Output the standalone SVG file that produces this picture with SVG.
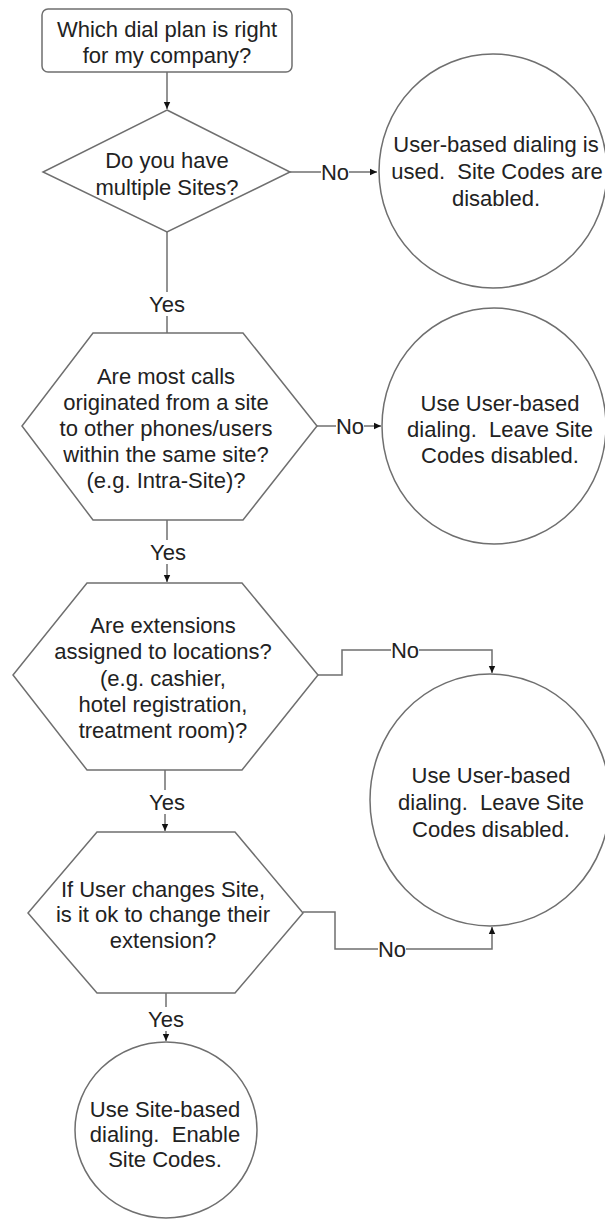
<svg xmlns="http://www.w3.org/2000/svg" width="605" height="1220" viewBox="0 0 605 1220">
<style>
.s{fill:#fff;stroke:#6f6f6f;stroke-width:1.5}
.t{font-family:"Liberation Sans",Arial,sans-serif;font-size:22px;fill:#222;text-anchor:middle;white-space:pre}
.c{fill:none;stroke:#6f6f6f;stroke-width:1.5}
.bg{fill:#fff}
</style>
<defs>
<marker id="ah" markerUnits="userSpaceOnUse" markerWidth="8" markerHeight="8" refX="7" refY="4" orient="auto">
<path d="M0,0.8 L7,4 L0,7.2 Z" fill="#111"/>
</marker>
</defs>
<g id="connectors">
<path class="c" d="M167,72 V109" marker-end="url(#ah)"/>
<path class="c" d="M290,172 H377" marker-end="url(#ah)"/>
<path class="c" d="M167,232 V333"/>
<path class="c" d="M317,426 H381" marker-end="url(#ah)"/>
<path class="c" d="M167,520 V582" marker-end="url(#ah)"/>
<path class="c" d="M318,675 H342 V650 H492 V673" marker-end="url(#ah)"/>
<path class="c" d="M165,770 V831" marker-end="url(#ah)"/>
<path class="c" d="M303,912 H335 V949 H492 V927" marker-end="url(#ah)"/>
<path class="c" d="M166,993 V1041" marker-end="url(#ah)"/>
<rect class="bg" x="321" y="163" width="28" height="20"/>
<text class="t" x="335" y="180">No</text>
<rect class="bg" x="148" y="292" width="38" height="24"/>
<text class="t" x="167" y="312">Yes</text>
<rect class="bg" x="336" y="417" width="28" height="20"/>
<text class="t" x="350" y="434">No</text>
<rect class="bg" x="148" y="540" width="38" height="24"/>
<text class="t" x="168" y="560">Yes</text>
<rect class="bg" x="391" y="641" width="28" height="20"/>
<text class="t" x="405" y="658">No</text>
<rect class="bg" x="148" y="790" width="38" height="24"/>
<text class="t" x="167" y="810">Yes</text>
<rect class="bg" x="378" y="940" width="28" height="20"/>
<text class="t" x="392" y="957">No</text>
<rect class="bg" x="147" y="1007" width="38" height="24"/>
<text class="t" x="166" y="1027">Yes</text>
</g>
<g id="start">
<rect class="s" x="42" y="9" width="250" height="63" rx="6"/>
<text class="t" x="167" y="37">Which dial plan is right</text>
<text class="t" x="167" y="63">for my company?</text>
</g>
<g id="q1">
<polygon class="s" points="167,110 290,172 167,232 43,172"/>
<text class="t" x="167" y="168">Do you have</text>
<text class="t" x="167" y="195">multiple Sites?</text>
</g>
<g id="r1">
<ellipse class="s" cx="493" cy="171" rx="114" ry="117"/>
<text class="t" x="496" y="152">User-based dialing is</text>
<text class="t" x="497" y="179">used.  Site Codes are</text>
<text class="t" x="496" y="206">disabled.</text>
</g>
<g id="q2">
<polygon class="s" points="93,333 243,333 317,426 243,520 93,520 22,426"/>
<text class="t" x="166" y="384">Are most calls</text>
<text class="t" x="166" y="410">originated from a site</text>
<text class="t" x="166" y="436">to other phones/users</text>
<text class="t" x="166" y="462">within the same site?</text>
<text class="t" x="166" y="488">(e.g. Intra-Site)?</text>
</g>
<g id="r2">
<ellipse class="s" cx="494" cy="426" rx="112" ry="118"/>
<text class="t" x="500" y="411">Use User-based</text>
<text class="t" x="500" y="437">dialing.  Leave Site</text>
<text class="t" x="500" y="463">Codes disabled.</text>
</g>
<g id="q3">
<polygon class="s" points="87,583 242,583 318,675 242,770 87,770 13,675"/>
<text class="t" x="163" y="633">Are extensions</text>
<text class="t" x="163" y="659">assigned to locations?</text>
<text class="t" x="163" y="686">(e.g. cashier,</text>
<text class="t" x="163" y="712">hotel registration,</text>
<text class="t" x="163" y="738">treatment room)?</text>
</g>
<g id="r3">
<ellipse class="s" cx="490" cy="800" rx="120" ry="126"/>
<text class="t" x="491" y="783">Use User-based</text>
<text class="t" x="491" y="810">dialing.  Leave Site</text>
<text class="t" x="491" y="837">Codes disabled.</text>
</g>
<g id="q4">
<polygon class="s" points="97,832 235,832 303,913 235,993 97,993 28,913"/>
<text class="t" x="163" y="897">If User changes Site,</text>
<text class="t" x="163" y="922">is it ok to change their</text>
<text class="t" x="163" y="948">extension?</text>
</g>
<g id="r4">
<ellipse class="s" cx="166" cy="1130" rx="91" ry="88"/>
<text class="t" x="165" y="1117">Use Site-based</text>
<text class="t" x="165" y="1142">dialing.  Enable</text>
<text class="t" x="165" y="1167">Site Codes.</text>
</g>
</svg>
